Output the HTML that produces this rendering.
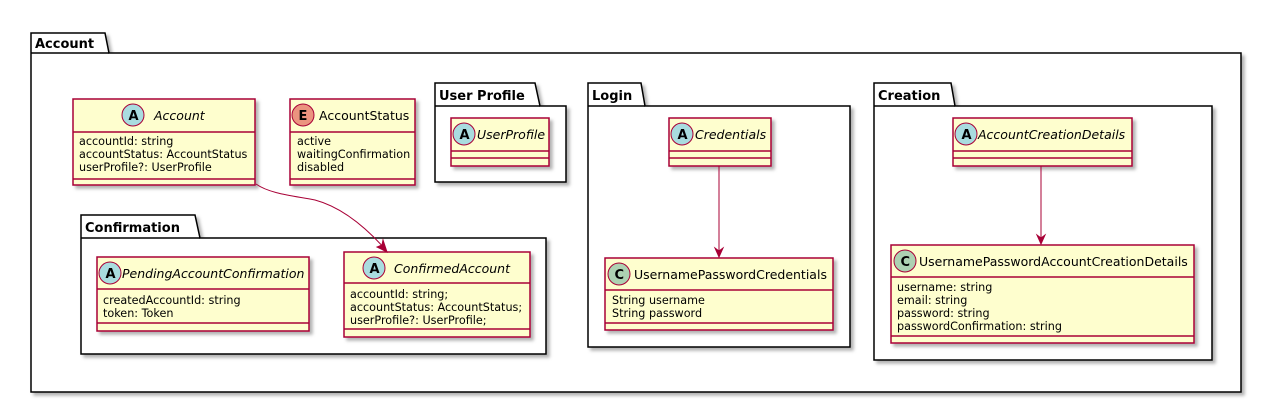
<!DOCTYPE html>
<html><head><meta charset="utf-8"><style>
html,body{margin:0;padding:0;background:#fff;width:1262px;height:403px;overflow:hidden}
text{font-family:"DejaVu Sans","Liberation Sans",sans-serif}
.pk{font-weight:bold;font-size:13px;fill:#000}
.nm{font-size:12.5px;font-style:italic;fill:#000}
.nn{font-size:12.5px;fill:#000}
.at{font-size:11.2px;fill:#000}
.bx{fill:#FEFECE;stroke:#A80036;stroke-width:1.5}
.ln{stroke:#A80036;stroke-width:1.5}
.pg{fill:#fff;stroke:#000;stroke-width:1.5}
.bt{font-size:13px;font-weight:bold;fill:#000}
</style></head><body>
<svg width="1262" height="403" xmlns="http://www.w3.org/2000/svg">
<defs><filter id="sh" x="-5%" y="-5%" width="115%" height="120%"><feDropShadow dx="3" dy="3" stdDeviation="1.5" flood-color="#000" flood-opacity="0.3"/></filter></defs>

<path class="pg" filter="url(#sh)" d="M31,53 L31,33 L105,33 L109,53 L1241,53 L1241,392 L31,392 Z"/>
<line x1="31" y1="53" x2="109" y2="53" stroke="#000" stroke-width="1.5"/>
<text class="pk" x="35" y="48" font-size="14">Account</text>

<path class="pg" filter="url(#sh)" d="M435,106 L435,83 L535,83 L540,106 L566,106 L566,182 L435,182 Z"/>
<line x1="435" y1="106" x2="540" y2="106" stroke="#000" stroke-width="1.5"/>
<text class="pk" x="439" y="100">User Profile</text>

<path class="pg" filter="url(#sh)" d="M588,106 L588,83 L641,83 L645,106 L850,106 L850,347 L588,347 Z"/>
<line x1="588" y1="106" x2="645" y2="106" stroke="#000" stroke-width="1.5"/>
<text class="pk" x="592" y="100">Login</text>

<path class="pg" filter="url(#sh)" d="M874,106 L874,83 L951,83 L955,106 L1212,106 L1212,360 L874,360 Z"/>
<line x1="874" y1="106" x2="955" y2="106" stroke="#000" stroke-width="1.5"/>
<text class="pk" x="878" y="100">Creation</text>

<path class="pg" filter="url(#sh)" d="M81,238 L81,215 L195,215 L200,238 L546,238 L546,354 L81,354 Z"/>
<line x1="81" y1="238" x2="200" y2="238" stroke="#000" stroke-width="1.5"/>
<text class="pk" x="85" y="232">Confirmation</text>

<rect class="bx" filter="url(#sh)" x="73" y="99" width="182" height="86"/>
<line class="ln" x1="73" y1="132" x2="255" y2="132"/><line class="ln" x1="73" y1="179" x2="255" y2="179"/>
<circle cx="133" cy="115" r="11" fill="#A9DCDF" stroke="#A80036"/><text class="bt" x="128.5" y="120">A</text>
<text class="nm" x="154" y="120">Account</text>
<text class="at" x="79" y="145">accountId: string</text>
<text class="at" x="79" y="158">accountStatus: AccountStatus</text>
<text class="at" x="79" y="171">userProfile?: UserProfile</text>

<rect class="bx" filter="url(#sh)" x="290" y="99" width="125" height="86"/>
<line class="ln" x1="290" y1="132" x2="415" y2="132"/><line class="ln" x1="290" y1="179" x2="415" y2="179"/>
<circle cx="303" cy="115" r="11" fill="#EB937F" stroke="#A80036"/><text class="bt" x="298.5" y="120">E</text>
<text class="nn" x="319" y="120">AccountStatus</text>
<text class="at" x="297" y="145">active</text>
<text class="at" x="297" y="158">waitingConfirmation</text>
<text class="at" x="297" y="171">disabled</text>

<rect class="bx" filter="url(#sh)" x="451" y="118" width="98" height="48"/>
<line class="ln" x1="451" y1="151" x2="549" y2="151"/><line class="ln" x1="451" y1="158" x2="549" y2="158"/>
<circle cx="464" cy="134" r="11" fill="#A9DCDF" stroke="#A80036"/><text class="bt" x="459.5" y="139">A</text>
<text class="nm" x="477" y="139">UserProfile</text>

<rect class="bx" filter="url(#sh)" x="669" y="118" width="102" height="48"/>
<line class="ln" x1="669" y1="151" x2="771" y2="151"/><line class="ln" x1="669" y1="158" x2="771" y2="158"/>
<circle cx="682" cy="134" r="11" fill="#A9DCDF" stroke="#A80036"/><text class="bt" x="677.5" y="139">A</text>
<text class="nm" x="695" y="139">Credentials</text>

<rect class="bx" filter="url(#sh)" x="605" y="258" width="228" height="72"/>
<line class="ln" x1="605" y1="290" x2="833" y2="290"/><line class="ln" x1="605" y1="323" x2="833" y2="323"/>
<circle cx="619" cy="274" r="11" fill="#ADD1B2" stroke="#A80036"/><text class="bt" x="614.5" y="279">C</text>
<text class="nn" x="634" y="279">UsernamePasswordCredentials</text>
<text class="at" x="612" y="304">String username</text>
<text class="at" x="612" y="317">String password</text>

<rect class="bx" filter="url(#sh)" x="953" y="118" width="179" height="48"/>
<line class="ln" x1="953" y1="151" x2="1132" y2="151"/><line class="ln" x1="953" y1="158" x2="1132" y2="158"/>
<circle cx="966" cy="134" r="11" fill="#A9DCDF" stroke="#A80036"/><text class="bt" x="961.5" y="139">A</text>
<text class="nm" x="978" y="139">AccountCreationDetails</text>

<rect class="bx" filter="url(#sh)" x="891" y="245" width="303" height="98"/>
<line class="ln" x1="891" y1="277" x2="1194" y2="277"/><line class="ln" x1="891" y1="336" x2="1194" y2="336"/>
<circle cx="905" cy="261" r="11" fill="#ADD1B2" stroke="#A80036"/><text class="bt" x="900.5" y="266">C</text>
<text class="nn" x="919" y="266">UsernamePasswordAccountCreationDetails</text>
<text class="at" x="897" y="291">username: string</text>
<text class="at" x="897" y="304">email: string</text>
<text class="at" x="897" y="317">password: string</text>
<text class="at" x="897" y="330">passwordConfirmation: string</text>

<rect class="bx" filter="url(#sh)" x="97" y="257" width="212" height="74"/>
<line class="ln" x1="97" y1="289" x2="309" y2="289"/><line class="ln" x1="97" y1="323" x2="309" y2="323"/>
<circle cx="110" cy="273" r="11" fill="#A9DCDF" stroke="#A80036"/><text class="bt" x="105.5" y="278">A</text>
<text class="nm" x="122" y="278">PendingAccountConfirmation</text>
<text class="at" x="103" y="304">createdAccountId: string</text>
<text class="at" x="103" y="317">token: Token</text>

<rect class="bx" filter="url(#sh)" x="344" y="252" width="186" height="85"/>
<line class="ln" x1="344" y1="283" x2="530" y2="283"/><line class="ln" x1="344" y1="329" x2="530" y2="329"/>
<circle cx="374" cy="268" r="11" fill="#A9DCDF" stroke="#A80036"/><text class="bt" x="369.5" y="273">A</text>
<text class="nm" x="394" y="273">ConfirmedAccount</text>
<text class="at" x="350" y="298">accountId: string;</text>
<text class="at" x="350" y="311">accountStatus: AccountStatus;</text>
<text class="at" x="350" y="324">userProfile?: UserProfile;</text>

<g fill="none" stroke="#A80036" stroke-width="1">
<path d="M256,184 C270,194 295,196 315,200 C345,208 370,232 386,250"/>
<path d="M719,166 L719,256"/>
<path d="M1041,166 L1041,243"/>
</g>
<g fill="#A80036" stroke="#A80036">
<path d="M387,252 L377,247 L382,245 L383,240 Z"/>
<path d="M719,257 L715,248 L719,251 L723,248 Z"/>
<path d="M1041,244 L1037,235 L1041,238 L1045,235 Z"/>
</g>
</svg>
</body></html>
